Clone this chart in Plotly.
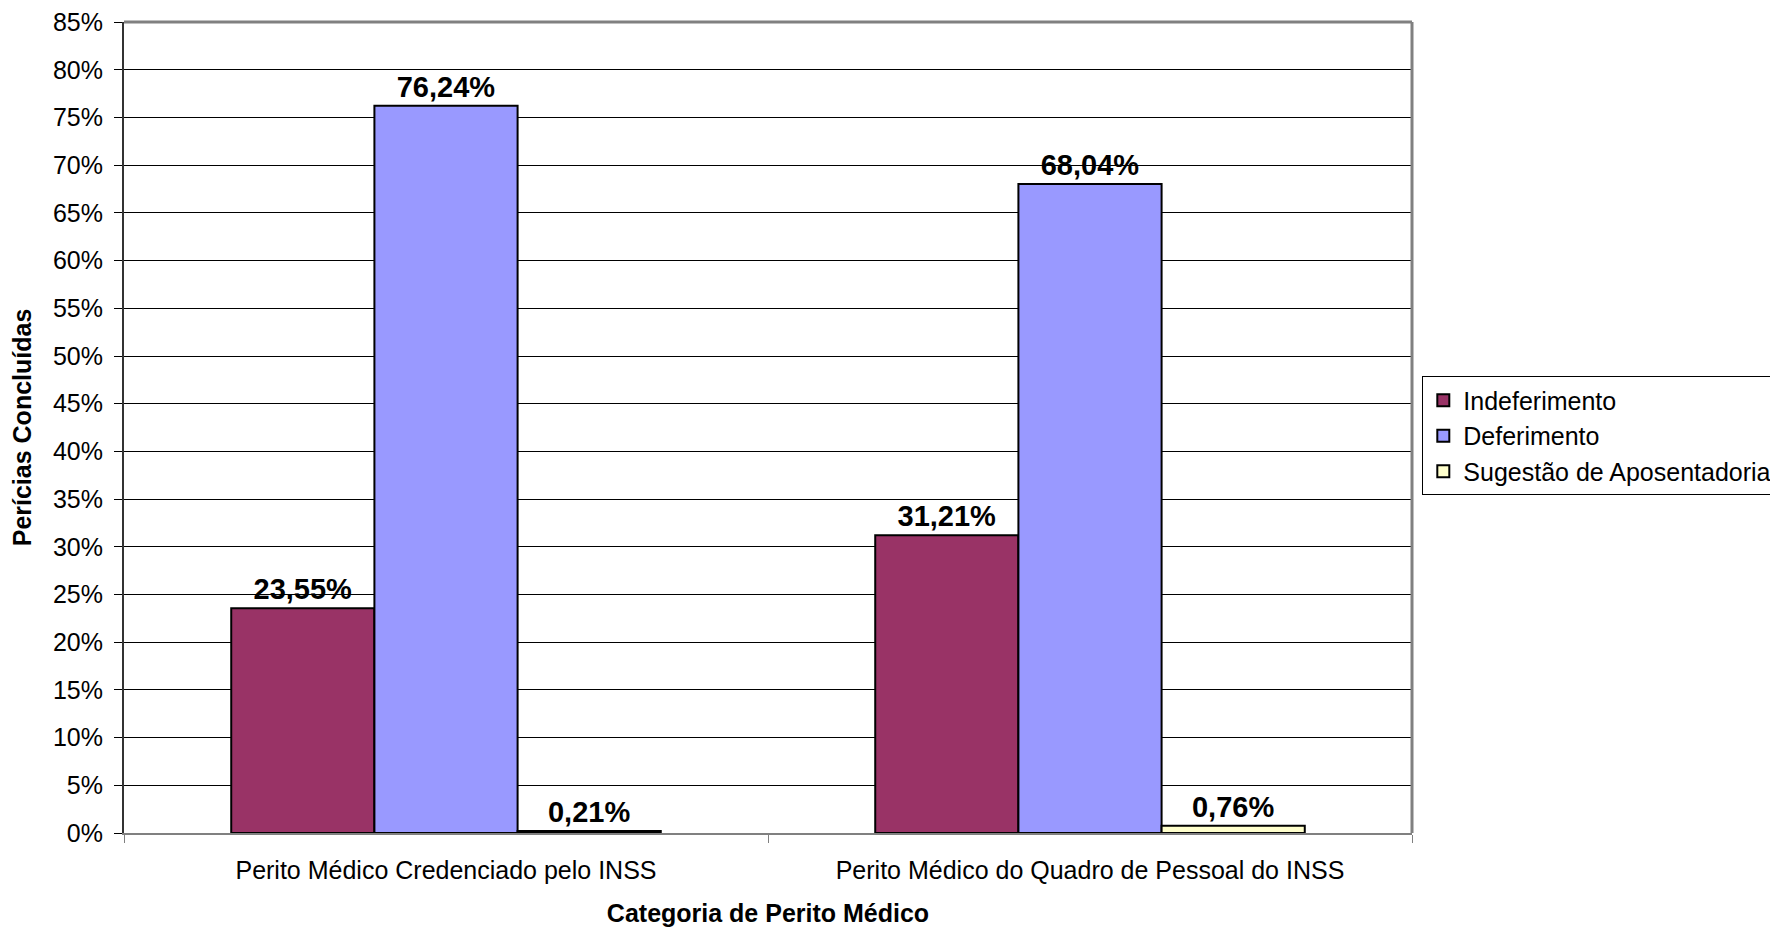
import plotly.graph_objects as go

categories = ["Perito Médico Credenciado pelo INSS", "Perito Médico do Quadro de Pessoal do INSS"]
series_names = ["Indeferimento", "Deferimento", "Sugestão de Aposentadoria"]
indeferimento = [0.2355, 0.3121]
deferimento = [0.7624, 0.6804]
sugestao = [0.0021, 0.0076]
colors = ["#993366", "#9999FF", "#FFFFCC"]

FONT = "Liberation Sans, Arial, sans-serif"

fig = go.Figure()
for name, vals, col in zip(series_names, [indeferimento, deferimento, sugestao], colors):
    fig.add_trace(go.Bar(
        x=categories, y=vals, name=name,
        marker=dict(color=col, line=dict(color="black", width=2)),
        texttemplate="<b>%{y:.2%}</b>", textposition="outside",
        textfont=dict(family=FONT, size=29, color="black"),
        cliponaxis=False, hoverinfo="skip",
    ))

fig.update_layout(
    width=1770, height=922,
    margin=dict(l=116, r=366, t=14, b=97, autoexpand=False),
    paper_bgcolor="white", plot_bgcolor="white",
    separators=",.",
    barmode="group", bargap=0.333, bargroupgap=0,
    font=dict(family=FONT, size=25, color="black"),
    showlegend=True,
    legend=dict(
        x=1.008, y=0.563, xanchor="left", yanchor="top",
        bordercolor="#000000", borderwidth=1, bgcolor="white",
        font=dict(family=FONT, size=25, color="black"),
        itemwidth=30, tracegroupgap=0,
    ),
    xaxis=dict(
        title=dict(text="<b>Categoria de Perito Médico</b>", font=dict(size=25), standoff=21),
        tickson="boundaries", ticks="outside", ticklen=8, tickcolor="#808080",
        showline=True, linecolor="#808080", linewidth=2,
        tickfont=dict(size=25), ticklabelstandoff=14, automargin=False,
        ticklabeloverflow="allow",
    ),
    yaxis=dict(
        title=dict(text="<b>Perícias Concluídas</b>", font=dict(size=25), standoff=18),
        range=[0, 0.8501], dtick=0.05, tickformat=".0%",
        ticks="outside", ticklen=8, tickcolor="#000000",
        showline=True, linecolor="#333333", linewidth=2,
        showgrid=True, gridcolor="#000000", gridwidth=1,
        zeroline=False, ticklabelstandoff=6, automargin=False,
        ticklabeloverflow="allow",
        tickfont=dict(size=25),
    ),
)

# plot-area border (top and right)
fig.add_shape(type="line", xref="paper", yref="paper", x0=0, x1=1, y0=1, y1=1,
              line=dict(color="#808080", width=3), layer="above")
fig.add_shape(type="line", xref="paper", yref="paper", x0=1, x1=1, y0=0, y1=1,
              line=dict(color="#808080", width=3), layer="above")

fig.write_html("out.html")
